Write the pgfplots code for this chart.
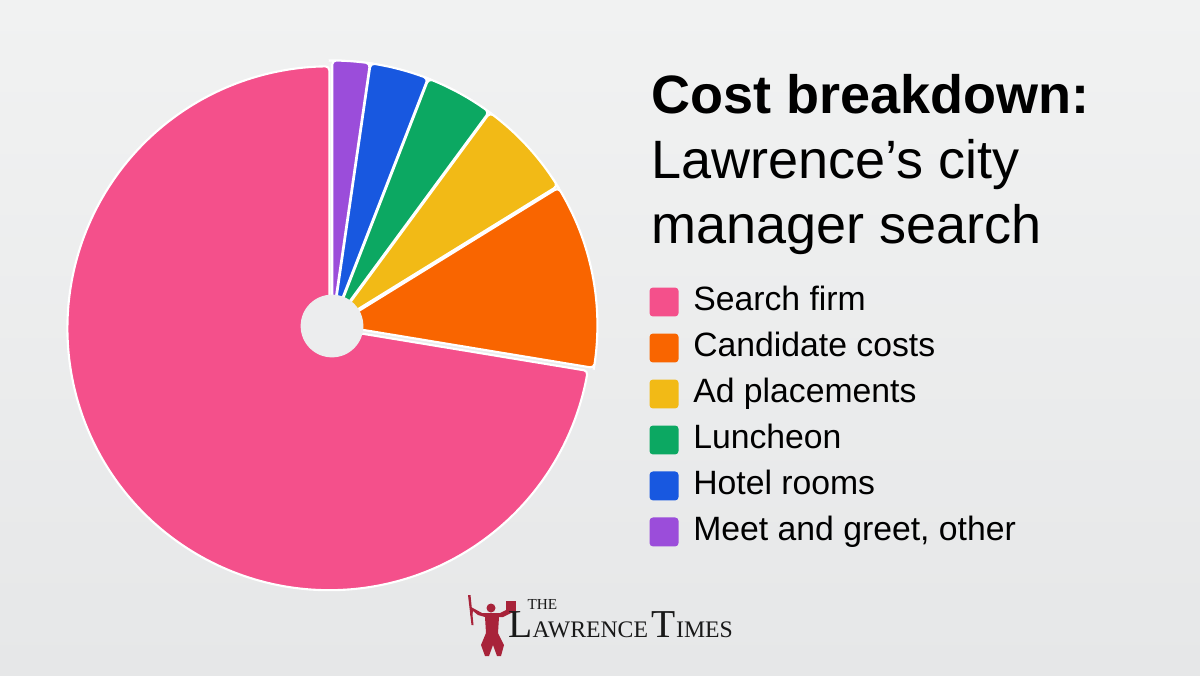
\documentclass[border=0pt]{standalone}
\usepackage{pgfplots}
\pgfplotsset{compat=1.18}
\usepackage{pgfplotstable}
\usepackage{fontspec}
\setmainfont{Liberation Sans}
\newfontfamily\logofont{Liberation Serif}

\definecolor{bgtop}{HTML}{F1F2F2}
\definecolor{bgbot}{HTML}{E6E7E8}
\definecolor{holec}{HTML}{ECEDEE}
\definecolor{slice0}{HTML}{F4508B}
\definecolor{slice1}{HTML}{F96500}
\definecolor{slice2}{HTML}{F2BA16}
\definecolor{slice3}{HTML}{0CA862}
\definecolor{slice4}{HTML}{1858E0}
\definecolor{slice5}{HTML}{9B4DDA}
\definecolor{logored}{HTML}{A8233A}

% share of total cost, percent
\pgfplotstableread[col sep=semicolon]{
item;share
Search firm;72.4
Candidate costs;11.4
Ad placements;6.1
Luncheon;4.2
Hotel rooms;3.6
Meet and greet, other;2.3
}\costs

% start/end angles of each slice, counter-clockwise from 12 o'clock
\def\acc{90}
\foreach \i in {0,...,5}{%
  \pgfplotstablegetelem{\i}{share}\of\costs
  \pgfmathsetmacro\sEnd{\acc+3.6*\pgfplotsretval}%
  \pgfmathsetmacro\sMid{(\acc+\sEnd)/2}%
  \pgfmathsetmacro\sdx{3.5*cos(\sMid)}%
  \pgfmathsetmacro\sdy{3.5*sin(\sMid)}%
  \expandafter\xdef\csname sa\i\endcsname{\acc}%
  \expandafter\xdef\csname ea\i\endcsname{\sEnd}%
  \expandafter\xdef\csname dx\i\endcsname{\sdx}%
  \expandafter\xdef\csname dy\i\endcsname{\sdy}%
  \pgfplotstablegetelem{\i}{item}\of\costs
  \expandafter\xdef\csname lab\i\endcsname{\pgfplotsretval}%
  \xdef\acc{\sEnd}%
}

\begin{document}
\begin{tikzpicture}[x=0.0133333cm, y=0.0133333cm]
\useasboundingbox (0,0) rectangle (1200,675);
\shade[top color=bgtop, bottom color=bgbot] (0,0) rectangle (1200,675);

\begin{axis}[
  at={(332,349)}, anchor=origin,
  x=0.0133333cm, y=0.0133333cm,
  xmin=-300, xmax=300, ymin=-300, ymax=300,
  hide axis, clip=false,
  legend cell align=left,
  legend image code/.code={
    \path[fill, draw=none, rounded corners=1.3pt] (0cm,-0.193cm) rectangle (0.387cm,0.193cm);},
  legend style={at={(axis cs:317,41)}, anchor=north west,
    draw=none, fill=none, inner sep=0pt,
    font=\fontsize{12.8}{15}\selectfont,
    row sep=4.95pt, column sep=5.6pt,
    nodes={inner sep=0pt, text height=9.5pt, text depth=3pt}},
]
\pgfplotsinvokeforeach{0,...,5}{
  \edef\doslice{\noexpand\addplot[fill=slice#1, draw=white, line width=0.8pt,
      rounded corners=1.5pt, samples=90,
      domain=\csname sa#1\endcsname:\csname ea#1\endcsname]
    ({\csname dx#1\endcsname+262*cos(x)}, {\csname dy#1\endcsname+262*sin(x)})
    -- (axis cs:\csname dx#1\endcsname,\csname dy#1\endcsname) -- cycle;}
  \doslice
  \addlegendentryexpanded{\csname lab#1\endcsname}
}
\addplot[only marks, mark=*, mark size=11.7pt, color=holec, forget plot]
  coordinates {(0,0)};
\end{axis}

% title
\node[anchor=base west, inner sep=0pt, font=\fontsize{20.5}{24}\selectfont\bfseries]
  at (651,562) {Cost breakdown:};
\node[anchor=base west, inner sep=0pt, font=\fontsize{20.5}{24}\selectfont]
  at (651,497) {Lawrence’s city};
\node[anchor=base west, inner sep=0pt, font=\fontsize{20.5}{24}\selectfont]
  at (651,432) {manager search};

% logo
\fill[logored] (491,67) circle (4.5);
\fill[logored] (482,62) -- (500,62) -- (508,66) -- (511,62) -- (503,58) -- (499,58)
  -- (498,42) -- (504,30) -- (501,19) -- (497,19) -- (493,30) -- (489,19) -- (485,19)
  -- (481,30) -- (486,42) -- (485,58) -- (478,60) -- (473,64) -- (472,59) -- (470,60)
  -- (471,68) -- cycle;
\fill[logored] (468,80) -- (470.5,80) -- (473.5,50) -- (471.5,50) -- cycle;
\fill[logored] (506,62) rectangle (516,74);
\node[anchor=base west, inner sep=0pt, font=\logofont\fontsize{5.8}{6}\selectfont, text=black!90]
  at (527,66) {THE};
\node[anchor=base west, inner sep=0pt, font=\logofont, text=black!90] at (508,38)
  {\fontsize{15}{16}\selectfont L\fontsize{9}{10}\selectfont AWRENCE\,%
   \fontsize{15}{16}\selectfont T\fontsize{9}{10}\selectfont IMES};
\end{tikzpicture}
\end{document}
